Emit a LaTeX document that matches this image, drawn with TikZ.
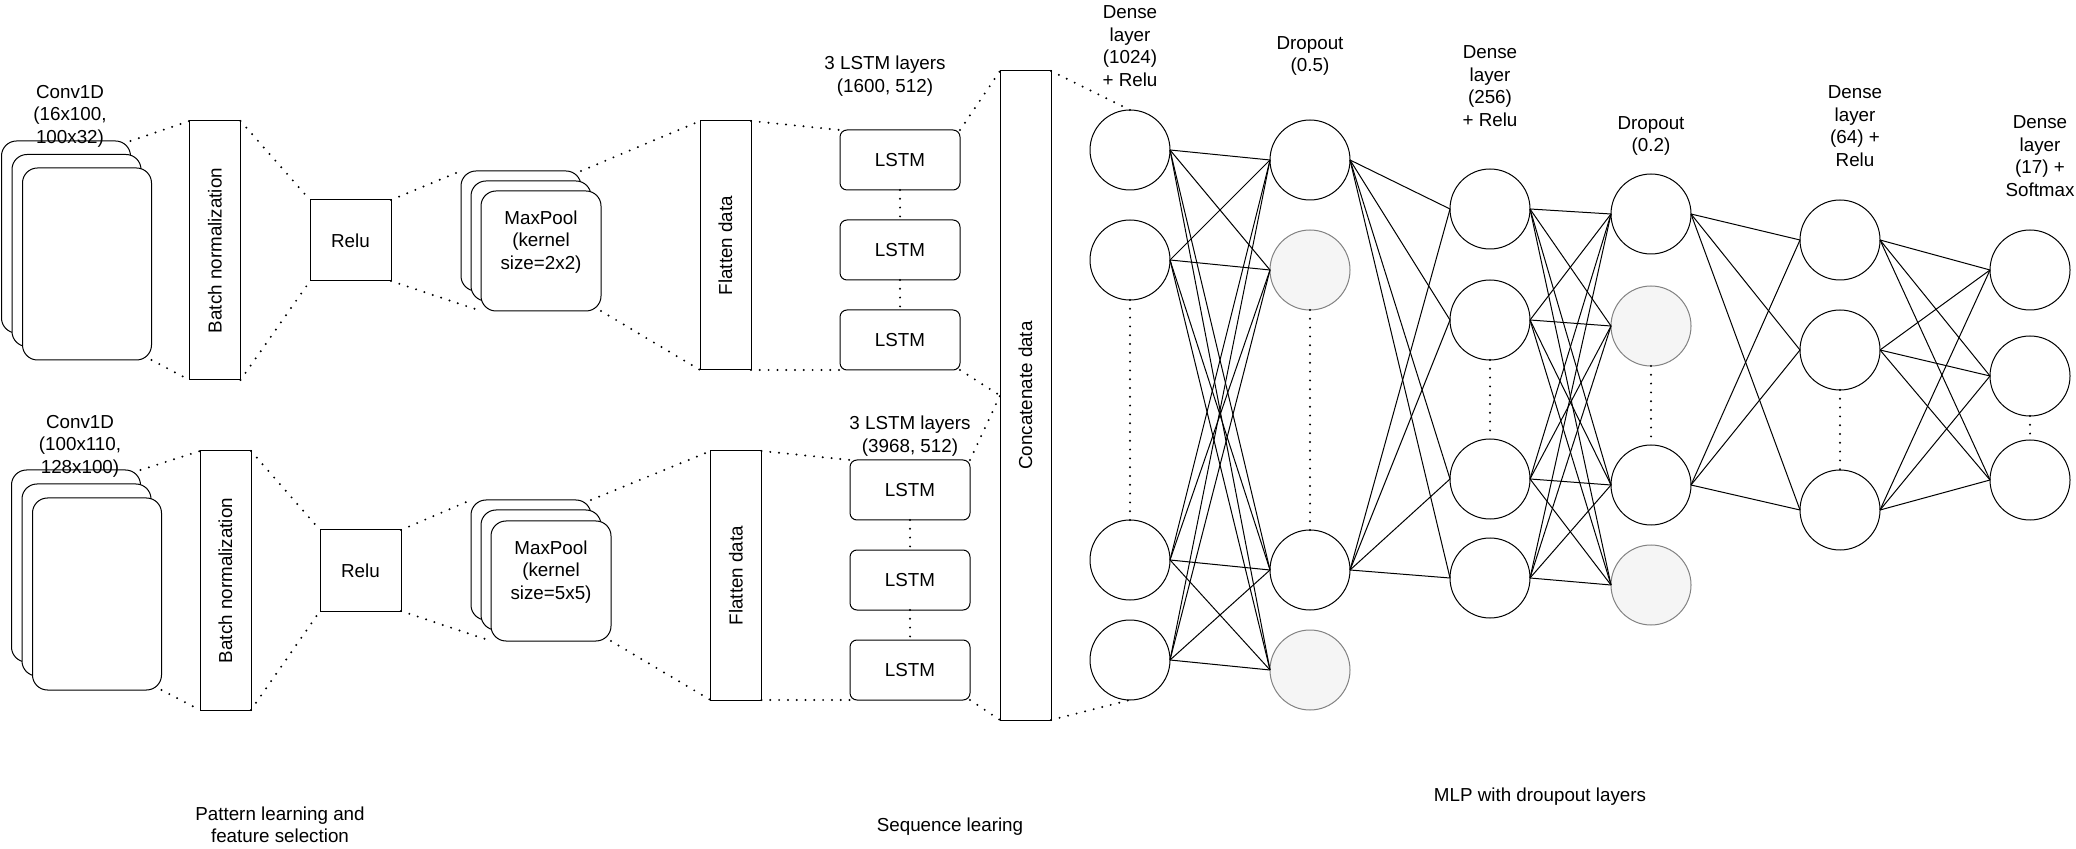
\documentclass[tikz,border=0pt]{standalone}
\usepackage{fontspec}
\setmainfont{Liberation Sans}
\definecolor{dropfill}{RGB}{245,245,245}
\definecolor{dropline}{RGB}{130,130,130}

\begin{document}
\begin{tikzpicture}[x=0.5pt, y=-0.5pt,
    every node/.style={font=\fontsize{9.4pt}{11.25pt}\selectfont, outer sep=0pt},
    stackbox/.style={draw, fill=white, line width=0.5pt, rounded corners=7.5pt, minimum width=64.5pt, minimum height=96pt},
    poolbox/.style={stackbox, minimum width=60pt, minimum height=60pt},
    tallbox/.style={draw, line width=0.5pt, minimum width=25.5pt, minimum height=129.5pt},
    flatbox/.style={tallbox, minimum height=124.5pt},
    lstmbox/.style={draw, fill=white, line width=0.5pt, rounded corners=3.5pt, minimum width=60pt, minimum height=30pt},
    relubox/.style={draw, line width=0.5pt, minimum size=40.5pt},
    neuron/.style={circle, draw, line width=0.5pt, minimum size=40pt, inner sep=0pt, fill=white},
    dropped/.style={neuron, draw=dropline, fill=dropfill},
    dotline/.style={line width=1.1pt, line cap=round, dash pattern=on 0pt off 4.4pt},
    link/.style={line width=0.5pt},
    txt/.style={align=center}
]
    \useasboundingbox (0,0) rectangle (2076,849);

    % Pattern learning: upper branch
    \node[stackbox] (convA1) at (66,237) {};
    \node[stackbox] (convA2) at (76.5,250.5) {};
    \node[stackbox] (convA3) at (87,264) {};
    \node[txt] (convAtext) at (70,116) {Conv1D\\(16x100,\\100x32)};
    \node[tallbox] (bnA) at (215,250.5) {};
    \node[rotate=90] (bnAtext) at (bnA) {Batch normalization};
    \node[relubox] (reluA) at (350.5,240.5) {Relu};
    \node[poolbox] (poolA1) at (521,231) {};
    \node[poolbox] (poolA2) at (531,241) {};
    \node[poolbox] (poolA3) at (541,251) {};
    \node[txt] (poolAtext) at (541,242) {MaxPool\\(kernel\\size=2x2)};

    % Pattern learning: lower branch
    \node[stackbox] (convB1) at (76,566) {};
    \node[stackbox] (convB2) at (86.5,580) {};
    \node[stackbox] (convB3) at (97,594) {};
    \node[txt] (convBtext) at (80,446) {Conv1D\\(100x110,\\128x100)};
    \node[tallbox] (bnB) at (225.5,580.5) {};
    \node[rotate=90] (bnBtext) at (bnB) {Batch normalization};
    \node[relubox] (reluB) at (360.5,570.5) {Relu};
    \node[poolbox] (poolB1) at (531,560) {};
    \node[poolbox] (poolB2) at (541,570) {};
    \node[poolbox] (poolB3) at (551,581) {};
    \node[txt] (poolBtext) at (551,572) {MaxPool\\(kernel\\size=5x5)};

    % Sequence learning
    \node[flatbox] (flatA) at (725.5,245.5) {};
    \node[rotate=90] (flatAtext) at (flatA) {Flatten data};
    \node[flatbox] (flatB) at (736,575.5) {};
    \node[rotate=90] (flatBtext) at (flatB) {Flatten data};
    \foreach \y [count=\i] in {160,250,340}
        \node[lstmbox] (lstmA\i) at (900,\y) {LSTM};
    \foreach \y [count=\i] in {490,580,670}
        \node[lstmbox] (lstmB\i) at (910,\y) {LSTM};
    \node[txt] (lstmAtext) at (885,76) {3 LSTM layers\\(1600, 512)};
    \node[txt] (lstmBtext) at (910,436) {3 LSTM layers\\(3968, 512)};
    \node[draw, line width=0.5pt, minimum width=25.5pt, minimum height=324.5pt] (concat) at (1025.5,395.5) {};
    \node[rotate=90] (concattext) at (concat) {Concatenate data};

    % MLP layers
    \foreach \y [count=\i] in {150,260,560,660}
        \node[neuron] (dA\i) at (1130,\y) {};
    \node[neuron]  (dpA1) at (1310,160) {};
    \node[dropped] (dpA2) at (1310,270) {};
    \node[neuron]  (dpA3) at (1310,570) {};
    \node[dropped] (dpA4) at (1310,670) {};
    \foreach \y [count=\i] in {209,320,479,578}
        \node[neuron] (dB\i) at (1490,\y) {};
    \node[neuron]  (dpB1) at (1651,214) {};
    \node[dropped] (dpB2) at (1651,326) {};
    \node[neuron]  (dpB3) at (1651,485) {};
    \node[dropped] (dpB4) at (1651,585) {};
    \foreach \y [count=\i] in {240,350,510}
        \node[neuron] (dC\i) at (1840,\y) {};
    \foreach \y [count=\i] in {270,376,480}
        \node[neuron] (dD\i) at (2030,\y) {};

    \node[txt] (dAtext) at (1130,46) {Dense\\layer\\(1024)\\+ Relu};
    \node[txt] (dpAtext) at (1310,56) {Dropout\\(0.5)};
    \node[txt] (dBtext) at (1490,86) {Dense\\layer\\(256)\\+ Relu};
    \node[txt] (dpBtext) at (1651,136) {Dropout\\(0.2)};
    \node[txt] (dCtext) at (1855,126) {Dense\\layer\\(64) +\\Relu};
    \node[txt] (dDtext) at (2040,156) {Dense\\layer\\(17) +\\Softmax};

    % Captions
    \node[txt] (capA) at (280,825) {Pattern learning and\\feature selection};
    \node (capB) at (950,827) {Sequence learing};
    \node (capC) at (1540,797) {MLP with droupout layers};

    % Dotted links between stages
    \draw[dotline] (convA1.north east) -- (bnA.north west);
    \draw[dotline] (convA3.south east) -- (bnA.south west);
    \draw[dotline] (bnA.north east) -- (reluA.north west);
    \draw[dotline] (bnA.south east) -- (reluA.south west);
    \draw[dotline] (reluA.north east) -- (poolA1.north west);
    \draw[dotline] (reluA.south east) -- (poolA3.south west);
    \draw[dotline] (poolA1.north east) -- (flatA.north west);
    \draw[dotline] (poolA3.south east) -- (flatA.south west);
    \draw[dotline] (flatA.north east) -- (lstmA1.north west);
    \draw[dotline] (flatA.south east) -- (lstmA3.south west);
    \draw[dotline] (lstmA1.south) -- (lstmA2.north);
    \draw[dotline] (lstmA2.south) -- (lstmA3.north);
    \draw[dotline] (lstmA1.north east) -- (concat.north west);
    \draw[dotline] (lstmA3.south east) -- (concat.west);

    \draw[dotline] (convB1.north east) -- (bnB.north west);
    \draw[dotline] (convB3.south east) -- (bnB.south west);
    \draw[dotline] (bnB.north east) -- (reluB.north west);
    \draw[dotline] (bnB.south east) -- (reluB.south west);
    \draw[dotline] (reluB.north east) -- (poolB1.north west);
    \draw[dotline] (reluB.south east) -- (poolB3.south west);
    \draw[dotline] (poolB1.north east) -- (flatB.north west);
    \draw[dotline] (poolB3.south east) -- (flatB.south west);
    \draw[dotline] (flatB.north east) -- (lstmB1.north west);
    \draw[dotline] (flatB.south east) -- (lstmB3.south west);
    \draw[dotline] (lstmB1.south) -- (lstmB2.north);
    \draw[dotline] (lstmB2.south) -- (lstmB3.north);
    \draw[dotline] (lstmB1.north east) -- (concat.west);
    \draw[dotline] (lstmB3.south east) -- (concat.south west);

    \draw[dotline] (concat.north east) -- (dA1.north);
    \draw[dotline] (concat.south east) -- (dA4.south);

    % Skipped neurons
    \draw[dotline] (dA2.south) -- (dA3.north);
    \draw[dotline] (dpA2.south) -- (dpA3.north);
    \draw[dotline] (dB2.south) -- (dB3.north);
    \draw[dotline] (dpB2.south) -- (dpB3.north);
    \draw[dotline] (dC2.south) -- (dC3.north);
    \draw[dotline] (dD2.south) -- (dD3.north);

    % Weights
    \foreach \i in {1,...,4}
        \foreach \j in {1,...,4}
            \draw[link] (dA\i.east) -- (dpA\j.west);
    \foreach \i in {1,3}
        \foreach \j in {1,...,4}
            \draw[link] (dpA\i.east) -- (dB\j.west);
    \foreach \i in {1,...,4}
        \foreach \j in {1,...,4}
            \draw[link] (dB\i.east) -- (dpB\j.west);
    \foreach \i in {1,3}
        \foreach \j in {1,2,3}
            \draw[link] (dpB\i.east) -- (dC\j.west);
    \foreach \i in {1,2,3}
        \foreach \j in {1,2,3}
            \draw[link] (dC\i.east) -- (dD\j.west);
\end{tikzpicture}
\end{document}
